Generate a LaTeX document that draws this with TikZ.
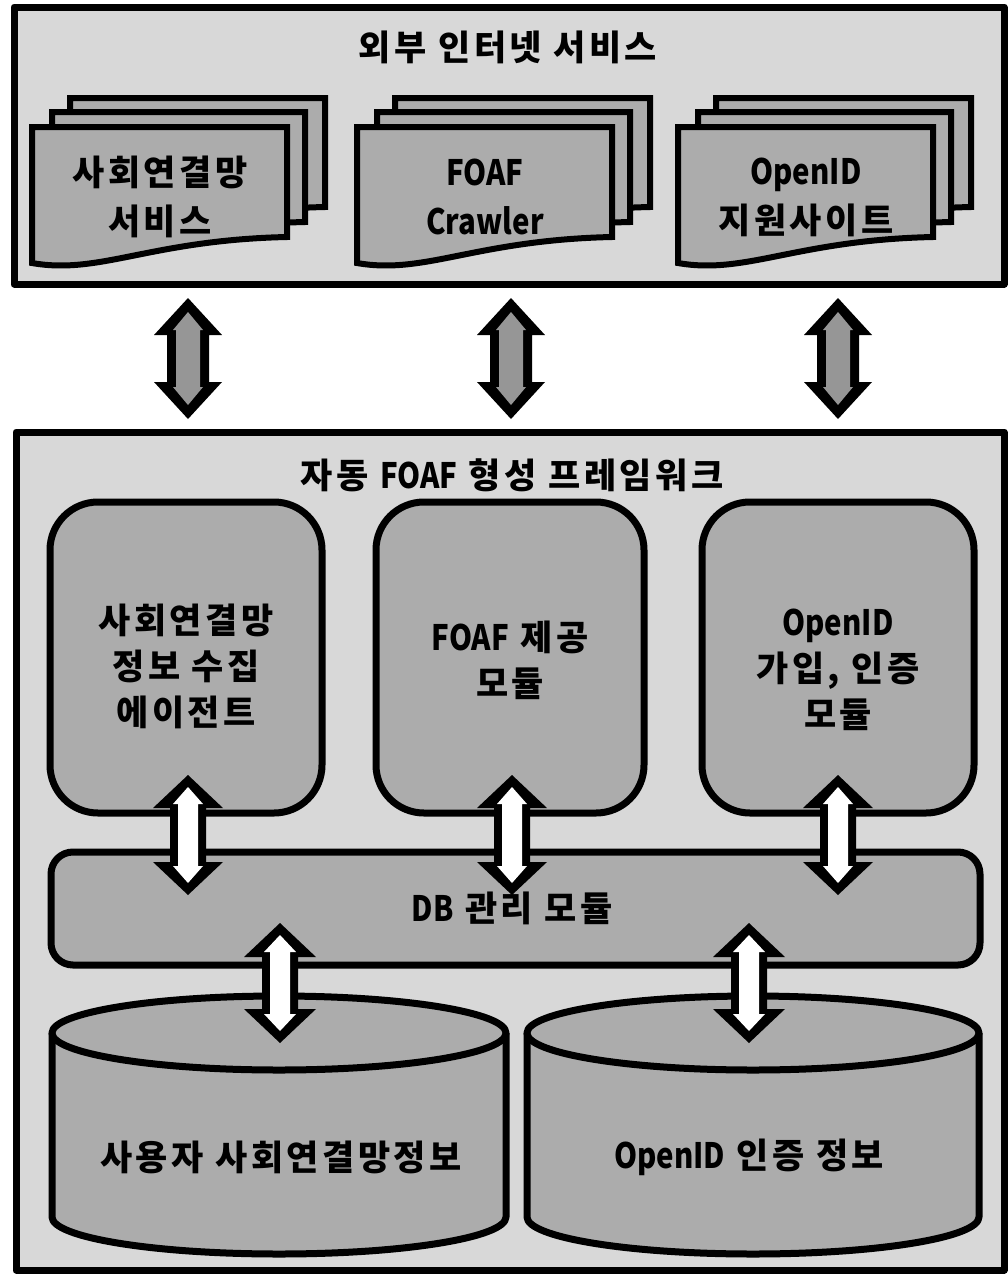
\documentclass[tikz,border=0pt]{standalone}
\usepackage{fontspec}
\setmainfont{Noto Sans CJK KR}[LetterSpace=10]
\newfontfamily\lat{Noto Sans CJK KR}[FakeStretch=0.84]
\definecolor{bgl}{RGB}{216,216,216}
\definecolor{shp}{RGB}{172,172,172}
\definecolor{arrg}{RGB}{150,150,150}
\newcommand\blockarrow[7]{%
  \fill[#7] (#1,#2) -- ({#1+#4},{#2+#6}) -- ({#1+#5},{#2+#6}) -- ({#1+#5},{#3-#6}) -- ({#1+#4},{#3-#6}) -- (#1,#3) -- ({#1-#4},{#3-#6}) -- ({#1-#5},{#3-#6}) -- ({#1-#5},{#2+#6}) -- ({#1-#4},{#2+#6}) -- cycle;}
\newcommand\docsheet[5]{%
  \filldraw[sheet] (#1,#2) -- (#3,#2) -- (#3,#5) .. controls ({#1+118},{#5+3}) and ({#1+68},{#4+12}) .. (#1,#4) -- cycle;}
\newcommand\docstack[3]{%
  \pgfmathsetmacro\dsA{70+#1}\pgfmathsetmacro\dsB{325+#1}%
  \docsheet{\dsA}{98}{\dsB}{233}{207}
  \pgfmathsetmacro\dsA{52+#1}\pgfmathsetmacro\dsB{305+#1}%
  \docsheet{\dsA}{112}{\dsB}{248}{222}
  \pgfmathsetmacro\dsA{32+#1}\pgfmathsetmacro\dsB{287+#1}%
  \docsheet{\dsA}{127}{\dsB}{263}{237}
  \node[doctext] (#2) at ({160+#1},197) {#3};}
\newcommand\cyl[5]{% cx rx ct cb ry
  \fill[shp] ({#1-#2},#3) -- ({#1-#2},#4) .. controls ({#1-#2},{#4+0.5523*#5}) and ({#1-0.5523*#2},{#4+#5}) .. (#1,{#4+#5}) .. controls ({#1+0.5523*#2},{#4+#5}) and ({#1+#2},{#4+0.5523*#5}) .. ({#1+#2},#4) -- ({#1+#2},#3) -- cycle;
  \draw[line width=7] ({#1-#2},#3) -- ({#1-#2},#4) .. controls ({#1-#2},{#4+0.5523*#5}) and ({#1-0.5523*#2},{#4+#5}) .. (#1,{#4+#5}) .. controls ({#1+0.5523*#2},{#4+#5}) and ({#1+#2},{#4+0.5523*#5}) .. ({#1+#2},#4) -- ({#1+#2},#3);
  \filldraw[fill=shp, line width=7] (#1,#3) ellipse [x radius=#2, y radius=#5];}
\tikzset{
  outerbox/.style={draw, line width=7, fill=bgl, rectangle, inner sep=0},
  sheet/.style={draw, line width=6, fill=shp, line join=miter},
  module/.style={draw, line width=7, fill=shp, rectangle, inner sep=0, rounded corners=48pt},
  dbbar/.style={draw, line width=7, fill=shp, rectangle, inner sep=0, rounded corners=22pt},
  bigtxt/.style={font=\fontsize{35}{46}\selectfont\bfseries, align=center, inner sep=0},
  doctext/.style={font=\fontsize{35}{49}\selectfont\bfseries, align=center, inner sep=0},
}
\begin{document}
\begin{tikzpicture}[x=1pt,y=-1pt,line join=round]
\useasboundingbox (0,0) rectangle (1008,1275);
\fill[white] (0,0) rectangle (1008,1275);
% top frame
\node[outerbox, minimum width=990, minimum height=277] (ext) at (509,145.5) {};
\node[bigtxt] (extT) at (508,47) {외부 인터넷 서비스};
\docstack{0}{d1}{사회연결망\\서비스}
\docstack{325}{d2}{{\lat FOAF}\\{\lat Crawler}}
\docstack{646}{d3}{{\lat OpenID}\\지원사이트}
% bottom frame
\node[outerbox, minimum width=988, minimum height=838] (fw) at (510,851) {};
\node[bigtxt] (fwT) at (512,475) {자동 {\lat FOAF} 형성 프레임워크};
% modules
\node[module, minimum width=272, minimum height=311] (m1) at (186,657.5) {};
\node[module, minimum width=268, minimum height=311] (m2) at (510,657.5) {};
\node[module, minimum width=272, minimum height=311] (m3) at (838,657.5) {};
\node[bigtxt] (m1t) at (186,666) {사회연결망\\정보 수집\\에이전트};
\node[bigtxt] (m2t) at (510,660) {{\lat FOAF} 제공\\모듈};
\node[bigtxt] (m3t) at (838,670) {{\lat OpenID}\\가입, 인증\\모듈};
% DB bar
\node[dbbar, minimum width=929, minimum height=113] (db) at (515.5,908.5) {};
\node[bigtxt] (dbt) at (512,908) {{\lat DB} 관리 모듈};
% cylinders
\cyl{279}{227}{1033}{1217}{37}
\cyl{753}{226}{1033}{1217}{37}
\node[bigtxt] (c1t) at (281,1157) {사용자 사회연결망정보};
\node[bigtxt] (c2t) at (749,1157) {{\lat OpenID} 인증 정보};
% grey arrows between frames
\foreach \ax in {188,511,838}{
  \blockarrow{\ax}{298}{419}{34}{21}{37}{black}
  \blockarrow{\ax}{312}{405}{15}{12}{18}{arrg}
}
% white arrows modules <-> DB
\foreach \ax in {188,512,838}{
  \blockarrow{\ax}{775}{895}{35}{18}{33}{black}
  \blockarrow{\ax}{787}{883}{15}{10}{17}{white}
}
% white arrows DB <-> cylinders
\foreach \ax in {280,749}{
  \blockarrow{\ax}{923}{1043}{36}{18}{34}{black}
  \blockarrow{\ax}{935}{1031}{16}{10}{17}{white}
}
\end{tikzpicture}
\end{document}
